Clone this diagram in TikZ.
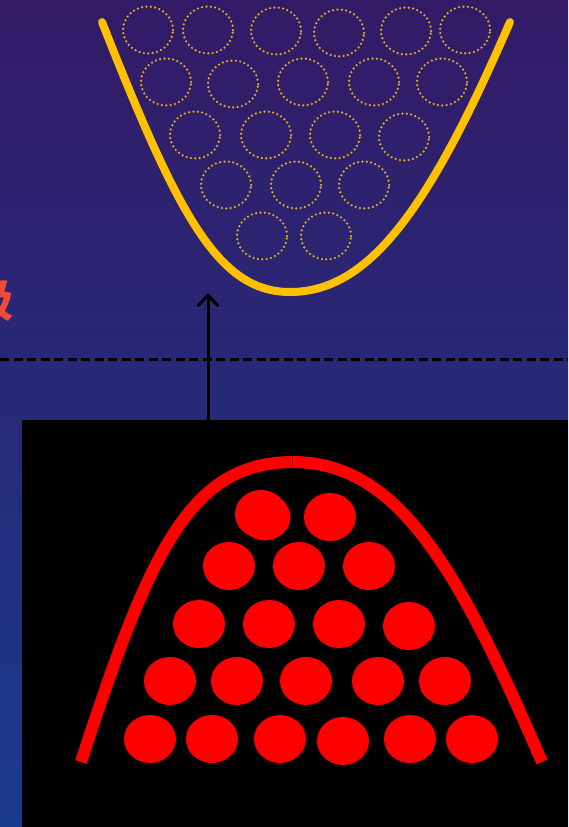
\documentclass[tikz,border=0pt]{standalone}
\usepackage{fontspec}
\usepackage{tikz}
\usetikzlibrary{shapes.geometric, arrows.meta, positioning, calc}
\newfontfamily\cjk{Noto Sans CJK SC}
\definecolor{skytop}{HTML}{331A66}
\definecolor{skymid}{HTML}{22237A}
\definecolor{skybot}{HTML}{1B3B8C}
\definecolor{gold}{HTML}{FFC000}
\definecolor{golddot}{HTML}{E3AC22}
\definecolor{coral}{HTML}{EE4B3B}

\begin{document}
\begin{tikzpicture}[x=1pt, y=-1pt,
  slot/.style={ellipse, draw=golddot, line width=2.5pt, dash pattern=on 0pt off 4.4pt,
               line cap=round, minimum width=50pt, minimum height=47pt, inner sep=0pt},
  ball/.style={ellipse, fill=red, minimum width=52pt, minimum height=48pt, inner sep=0pt},
  arr/.style={-{Straight Barb[length=11pt,width=21pt]}, line width=3pt, color=black},
  bowl/.style={color=gold, line width=8pt, line cap=round},
  hump/.style={color=red, line width=12pt},
]
\useasboundingbox (0,0) rectangle (568,827);
\clip (0,0) rectangle (568,827);
\shade[top color=skytop, middle color=skymid, bottom color=skybot] (0,0) rectangle (568,827);

% cut-off title character
\node[font={\cjk\bfseries\fontsize{46}{46}\selectfont}, text=coral, anchor=east, inner sep=0pt] (ji) at (14,300) {级};

% bowl with empty slots
\foreach \x/\y [count=\i] in {148/30, 208/30, 276/31, 339/33, 406/31, 465/30,
                             166/82, 233/84, 303/82, 374/82, 442/82,
                             195/135, 266/135, 335/135, 404/137,
                             226/185, 296/185, 364/185,
                             262/236, 326/236}
  \node[slot] (s\i) at (\x,\y) {};
\draw[bowl] (102,22) .. controls (178,215) and (218,292) .. (290,292)
            .. controls (368,292) and (428,212) .. (510,22);

\draw[line width=3pt, dash pattern=on 9pt off 4.5pt] (0,359) -- (568,359);

% black panel with the filled hump
\node[fill=black, minimum width=546pt, minimum height=407pt, anchor=north west, inner sep=0pt] (panel) at (22,420) {};
\coordinate (tail) at (208,420);
\coordinate (tip) at (208,293);
\draw[arr] (tail) -- (tip);

\draw[hump] (81,762) .. controls (150,550) and (190,463) .. (292,462)
            .. controls (395,462) and (455,560) .. (542,762);
\draw[color=black!55!red, line width=0.8pt] (292,455) -- (292,469);

\node[ball, draw=black, line width=1pt] (b0) at (265,517) {};
\foreach \x/\y [count=\i] in {261/514, 330/517,
                             229/566, 299/566, 369/566,
                             199/624, 269/624, 339/624, 409/626,
                             170/681, 237/681, 306/681, 378/681, 445/681,
                             150/739, 212/739, 280/739, 343/741, 410/739, 472/739}
  \node[ball] (b\i) at (\x,\y) {};
\end{tikzpicture}
\end{document}
